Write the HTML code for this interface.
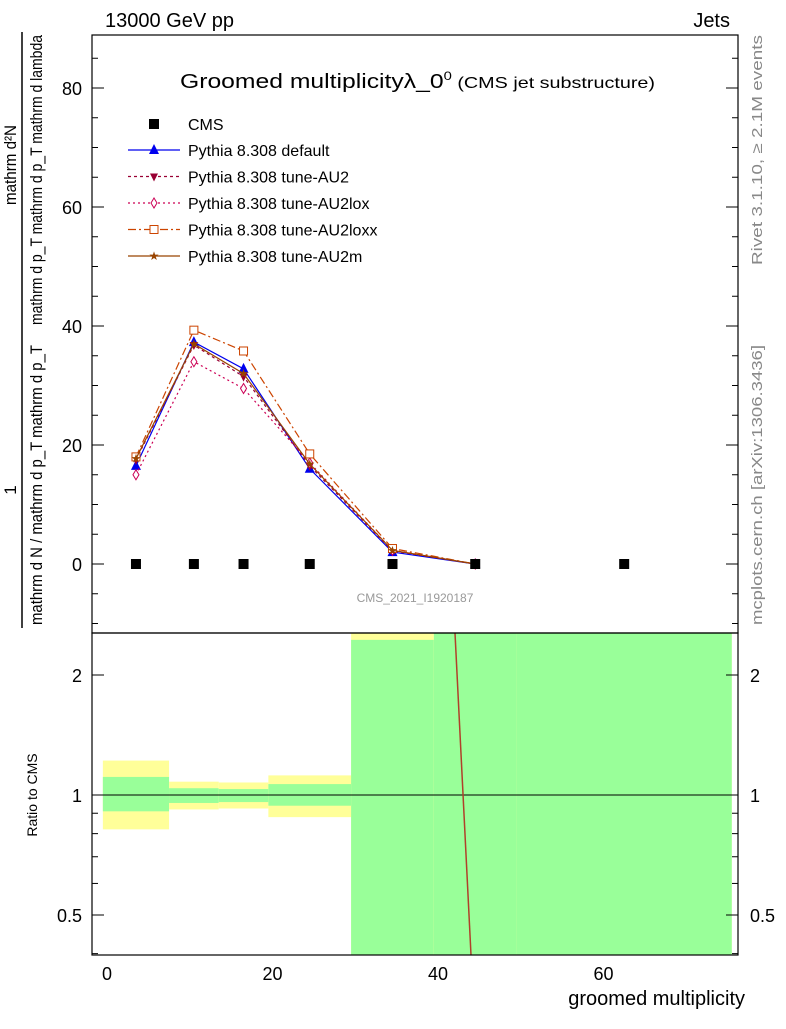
<!DOCTYPE html>
<html><head><meta charset="utf-8"><style>
body{margin:0;background:#fff;font-family:"Liberation Sans",sans-serif}
svg text{font-family:"Liberation Sans",sans-serif}
</style></head><body>
<svg id="c" width="786" height="1024" xmlns="http://www.w3.org/2000/svg">
<text x="105" y="27" font-size="20">13000 GeV pp</text>
<text x="730" y="27" font-size="20" text-anchor="end">Jets</text>
<text x="180" y="88" font-size="20" textLength="475" lengthAdjust="spacingAndGlyphs">Groomed multiplicityλ_0<tspan font-size="12" dy="-8">0</tspan><tspan font-size="16" dy="8"> (CMS jet substructure)</tspan></text>
<text transform="translate(762,150) rotate(-90)" font-size="15" fill="#888" text-anchor="middle" textLength="230" lengthAdjust="spacingAndGlyphs">Rivet 3.1.10, ≥ 2.1M events</text>
<text transform="translate(762,485) rotate(-90)" font-size="15" fill="#888" text-anchor="middle" textLength="280" lengthAdjust="spacingAndGlyphs">mcplots.cern.ch [arXiv:1306.3436]</text>
<g font-size="17">
<text transform="translate(16,165) rotate(-90)" text-anchor="middle" textLength="80" lengthAdjust="spacingAndGlyphs">mathrm d²N</text>
<text transform="translate(42,180) rotate(-90)" text-anchor="middle" textLength="290" lengthAdjust="spacingAndGlyphs">mathrm d p_T mathrm d p_T mathrm d lambda</text>
<line x1="22" y1="32" x2="22" y2="628" stroke="#000" stroke-width="1.5"/>
<text transform="translate(16,490) rotate(-90)" text-anchor="middle">1</text>
<text transform="translate(42,485) rotate(-90)" text-anchor="middle" textLength="280" lengthAdjust="spacingAndGlyphs">mathrm d N / mathrm d p_T mathrm d p_T</text>
</g>
<text transform="translate(37,795) rotate(-90)" font-size="14" text-anchor="middle">Ratio to CMS</text>
<text x="745" y="1005" font-size="20" text-anchor="end">groomed multiplicity</text>
<text x="415" y="602" font-size="12" fill="#999" text-anchor="middle">CMS_2021_I1920187</text>
<g id="ratio"></g><g id="main"></g><g id="axes"></g>
</svg>
<script>
const binEdges=[-0.5,7.5,13.5,19.5,29.5,39.5,49.5,75.5];
const cmsX=[3.5,10.5,16.5,24.5,34.5,44.5,62.5];
const cmsY=[0,0,0,0,0,0,0];
const mcX=[3.5,10.5,16.5,24.5,34.5,44.5];
const yDefault=[16.5,37.3,32.8,16,2,0];
const yAU2=[17.5,36.8,31.5,16.5,2.2,0];
const yAU2lox=[15,34,29.5,17,2.3,0];
const yAU2loxx=[18,39.3,35.8,18.5,2.6,0];
const yAU2m=[17.7,37,32,16.8,2.3,0];
const yellowLo=[0.82,0.92,0.925,0.88,0.3,0.3,0.3];
const yellowHi=[1.22,1.08,1.075,1.12,2.6,2.6,2.6];
const greenLo=[0.91,0.955,0.96,0.94,0.3,0.3,0.3];
const greenHi=[1.11,1.04,1.035,1.065,2.45,2.6,2.6];
const xTicks=[0,20,40,60];
const yTicks=[0,20,40,60,80];
const rTicks=[0.5,1,2];
const NS="http://www.w3.org/2000/svg";
const L=92,R=738,T=35,B=633,RB=955;
const X=v=>107+(v)*(438-107)/40;
const Y=v=>564-v*(564-88)/80;
const RY=v=>Math.max(T+598,Math.min(RB,795-Math.log2(v)*120));
function mk(p,tag,a){const e=document.createElementNS(NS,tag);for(const k in a)e.setAttribute(k,a[k]);document.getElementById(p).appendChild(e);return e;}
for(let i=0;i<yellowLo.length;i++){
 let e=mk('ratio','rect',{x:X(binEdges[i]),width:X(binEdges[i+1])-X(binEdges[i]),y:RY(yellowHi[i]),height:RY(yellowLo[i])-RY(yellowHi[i]),fill:'#ffff99'});
 
 
 let g=mk('ratio','rect',{x:X(binEdges[i]),width:X(binEdges[i+1])-X(binEdges[i]),y:RY(greenHi[i]),height:RY(greenLo[i])-RY(greenHi[i]),fill:'#99ff99'});
 
 
}
let rl=mk('ratio','line',{x1:L,x2:R,y1:RY(1),y2:RY(1),stroke:'#000'});


let sl=mk('ratio','line',{x1:455,y1:633,x2:471,y2:955,stroke:'#b0402a','stroke-width':1.5});


const series=[
 {n:'default',d:yDefault,c:'#0000ee',dash:'',m:'tri'},
 {n:'tune-AU2',d:yAU2,c:'#990033',dash:'3,3',m:'tridown'},
 {n:'tune-AU2lox',d:yAU2lox,c:'#cc0055',dash:'2,3',m:'diamond'},
 {n:'tune-AU2loxx',d:yAU2loxx,c:'#cc4400',dash:'8,3,2,3',m:'square'},
 {n:'tune-AU2m',d:yAU2m,c:'#994400',dash:'',m:'star'}];
function marker(p,m,x,y,c){
 let e;
 if(m=='tri')e=mk(p,'polygon',{points:`${x},${y-6} ${x-5},${y+4} ${x+5},${y+4}`,fill:c});
 else if(m=='tridown')e=mk(p,'polygon',{points:`${x},${y+5} ${x-4},${y-3} ${x+4},${y-3}`,fill:c});
 else if(m=='diamond')e=mk(p,'polygon',{points:`${x},${y-5} ${x-3},${y} ${x},${y+5} ${x+3},${y}`,fill:'#fff',stroke:c});
 else if(m=='square')e=mk(p,'rect',{x:x-4,y:y-4,width:8,height:8,fill:'#fff',stroke:c});
 else if(m=='cms')e=mk(p,'rect',{x:x-5,y:y-5,width:10,height:10,fill:'#000'});
 else e=mk(p,'text',{x:x,y:y+4,'font-size':12,'text-anchor':'middle',fill:c});
 if(m=='star')e.textContent='★';
 return e;
}
series.forEach((s,k)=>{
 let pl=mk('main','polyline',{points:mcX.map((x,i)=>X(x)+','+Y(s.d[i])).join(' '),fill:'none',stroke:s.c,'stroke-width':1.2,'stroke-dasharray':s.dash});
 
 
 mcX.forEach((x,i)=>{const e=marker('main',s.m,X(x),Y(s.d[i]),s.c);
  
  });
 const ly=150+k*26.5;
 let ll=mk('main','line',{x1:128,x2:180,y1:ly,y2:ly,stroke:s.c,'stroke-width':1.2,'stroke-dasharray':s.dash});
 
 
 let lm=marker('main',s.m,154,ly,s.c);
 
 
 let lt=mk('main','text',{x:188,y:ly+6,'font-size':16});
 lt.textContent='Pythia 8.308 '+s.n;
 
 
});
cmsX.forEach((x,i)=>{const e=marker('main','cms',X(x),Y(cmsY[i]));
 
 });
let cm=marker('main','cms',154,124);


let ct=mk('main','text',{x:188,y:130,'font-size':16});ct.textContent='CMS';


[[T,B],[B,RB]].forEach(([a,b])=>{let f=mk('axes','rect',{x:L,y:a,width:R-L,height:b-a,fill:'none',stroke:'#000','stroke-width':1.2});
 
 });
for(let v=-1;v<=76;v+=2){const big=v%10==0;
 if(v%2==0){for(const [yb,yt] of [[B,T],[RB,B]]){mk('axes','line',{x1:X(v),x2:X(v),y1:yb,y2:yb-(big?12:6),stroke:'#000'});mk('axes','line',{x1:X(v),x2:X(v),y1:yt,y2:yt+(big?12:6),stroke:'#000'});}}}
xTicks.forEach(v=>{let t=mk('axes','text',{x:X(v),y:980,'font-size':18,'text-anchor':'middle'});t.textContent=v;
 
 });
for(let v=-10;v<=88;v+=5){const big=v%20==0;
 mk('axes','line',{x1:L,x2:L+(big?12:6),y1:Y(v),y2:Y(v),stroke:'#000'});
 mk('axes','line',{x1:R,x2:R-(big?12:6),y1:Y(v),y2:Y(v),stroke:'#000'});}
yTicks.forEach(v=>{let t=mk('axes','text',{x:82,y:Y(v)+7,'font-size':18,'text-anchor':'end'});t.textContent=v;
 
 });
[0.4,0.5,0.6,0.7,0.8,0.9,1,2].forEach(v=>{const big=rTicks.includes(v);
 mk('axes','line',{x1:L,x2:L+(big?12:6),y1:RY(v),y2:RY(v),stroke:'#000'});
 mk('axes','line',{x1:R,x2:R-(big?12:6),y1:RY(v),y2:RY(v),stroke:'#000'});});
rTicks.forEach(v=>{for(const [x,a] of [[82,'end'],[750,'start']]){let t=mk('axes','text',{x:x,y:RY(v)+7,'font-size':18,'text-anchor':a});t.textContent=v;
 
 }});
</script>
</body></html>
